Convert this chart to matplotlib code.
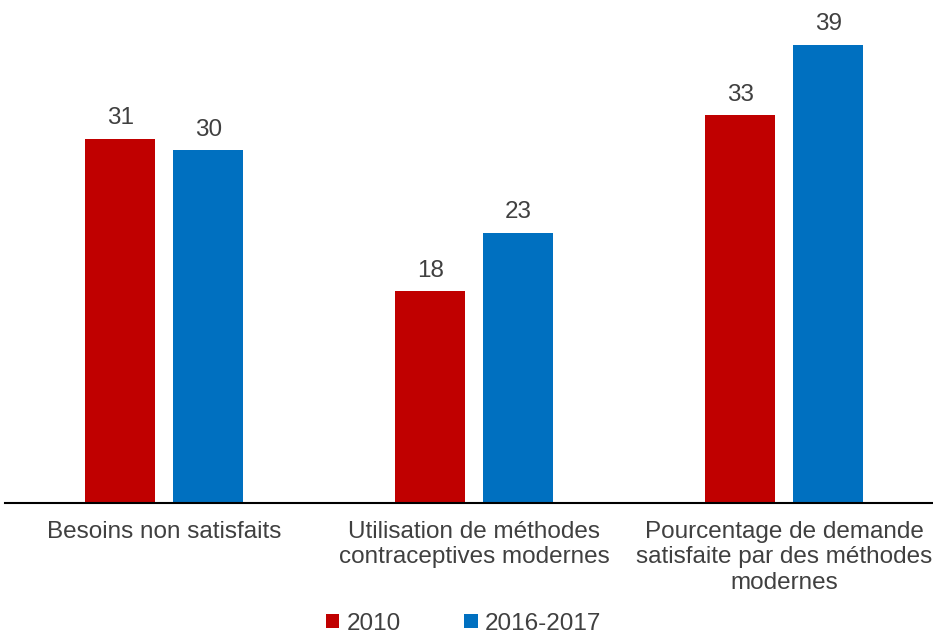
import matplotlib.pyplot as plt
import numpy as np

categories = ["Besoins non satisfaits",
              "Utilisation de méthodes\ncontraceptives modernes",
              "Pourcentage de demande\nsatisfaite par des méthodes\nmodernes"]
series_names = ["2010", "2016-2017"]
vals_2010 = [31, 18, 33]
vals_2017 = [30, 23, 39]
colors = ["#C00000", "#0070C0"]

plt.rcParams['font.family'] = ['Liberation Sans', 'DejaVu Sans']
txt = "#404040"

fig = plt.figure(figsize=(9.33, 6.35), dpi=100)
ax = fig.add_axes([0.005, 0.208, 0.995, 0.77])

x = np.arange(len(categories))
w = 0.226
off = 0.142
b1 = ax.bar(x - off, vals_2010, w, color=colors[0], label=series_names[0])
b2 = ax.bar(x + off, vals_2017, w, color=colors[1], label=series_names[1])

for bars in (b1, b2):
    for b in bars:
        ax.text(b.get_x() + b.get_width() / 2, b.get_height() + 0.8, f"{int(b.get_height())}",
                ha='center', va='bottom', fontsize=17.5, color=txt)

ax.set_xlim(-0.515, 2.48)
ax.set_ylim(0, 41.6)
ax.set_yticks([])
ax.set_xticks(x)
ax.set_xticklabels(categories, fontsize=17.5, color=txt, linespacing=1.2)
ax.tick_params(axis='x', length=0, pad=13)
for s in ['top', 'right', 'left']:
    ax.spines[s].set_visible(False)
ax.spines['bottom'].set_linewidth(1.5)

fig.legend(handles=[b1, b2], labels=series_names, loc='center', bbox_to_anchor=(0.497, 0.018),
           ncol=2, frameon=False, fontsize=17.5, labelcolor=txt, handlelength=0.55,
           handleheight=0.55, handletextpad=0.3, columnspacing=2.6)

fig.savefig("out.png", dpi=100)
